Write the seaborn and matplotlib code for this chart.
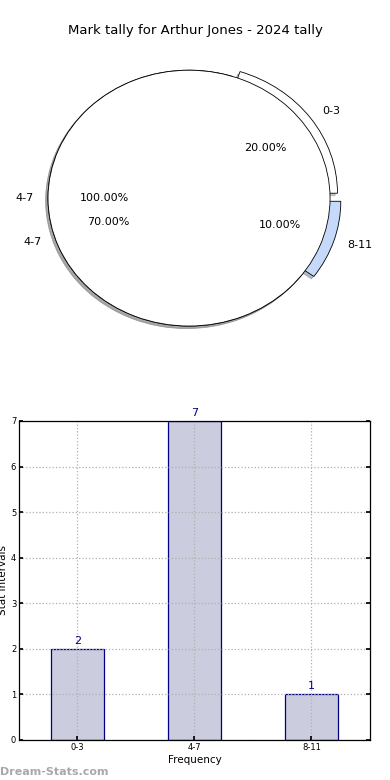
"""Mark tally pie + frequency bars (390x780)."""
import matplotlib
matplotlib.use("Agg")
import matplotlib.pyplot as plt
import seaborn as sns

TITLE = "Mark tally for Arthur Jones - 2024 tally"
CATEGORIES = ["0-3", "4-7", "8-11"]
COUNTS = [2, 7, 1]
TOTAL_LABEL = ["4-7"]
TOTAL_VALUE = [1]

sns.set_theme(style="white")
plt.rcParams["font.family"] = ["DejaVu Sans"]
plt.rcParams.update({"text.color": "black", "axes.labelcolor": "black",
                     "xtick.color": "black", "ytick.color": "black"})

SHADOW = dict(ox=-0.012, oy=-0.014, shade=0.45)

fig = plt.figure(figsize=(3.9, 7.8), dpi=100)

# ---- pie (ellipse, not equal aspect) ----
ax_pie = fig.add_axes([0.0327, 0.541, 0.904, 0.410])
ax_pie.pie(COUNTS, labels=CATEGORIES, colors=["white", "white", "#c6d9fb"],
           explode=[0.065, 0.0, 0.08], autopct="%.2f%%", shadow=SHADOW,
           startangle=0, labeldistance=1.1, pctdistance=0.6,
           wedgeprops=dict(edgecolor="black", linewidth=0.6),
           textprops=dict(fontsize=8))
ax_pie.pie(TOTAL_VALUE, labels=TOTAL_LABEL, colors=["white"],
           autopct="%.2f%%", shadow=SHADOW, startangle=0,
           labeldistance=1.1, pctdistance=0.6,
           wedgeprops=dict(edgecolor="black", linewidth=0.6),
           textprops=dict(fontsize=8))
ax_pie.set_aspect("auto")
ax_pie.set_xlim(-1.25, 1.25)
ax_pie.set_ylim(-1.25, 1.25)
ax_pie.axis("off")
fig.text(0.5, 0.961, TITLE, ha="center", va="center", fontsize=9.5)

# ---- bars ----
ax = fig.add_axes([0.0487, 0.0513, 0.9, 0.409])
sns.barplot(x=CATEGORIES, y=COUNTS, ax=ax, width=0.45, color="#ccccdf",
            saturation=1, edgecolor="navy", linewidth=0.9)
ax.set_xlim(-0.5, 2.5)
ax.set_ylim(0, 7)
ax.set_yticks(range(0, 8))
ax.grid(True, linestyle=":", color="#b0b0b0", linewidth=0.9, zorder=2.5)
ax.set_axisbelow(False)
for s in ax.spines.values():
    s.set_color("black")
    s.set_linewidth(0.9)
    s.set_zorder(5)
ax.tick_params(axis="both", labelsize=6, direction="in", length=3,
               left=True, right=True, bottom=True, pad=2)
for x, v in enumerate(COUNTS):
    ax.text(x, v + 0.07, str(v), ha="center", va="bottom", fontsize=8,
            color="navy")
ax.set_xlabel("Frequency", fontsize=7.5, labelpad=2)
ax.set_ylabel("Stat Intervals", fontsize=7.5, labelpad=2)

fig.text(0.0, 0.004, "Dream-Stats.com", fontsize=8, color="#a8a8a8",
         fontweight="bold", ha="left", va="bottom")

fig.savefig("out.png", dpi=100)
